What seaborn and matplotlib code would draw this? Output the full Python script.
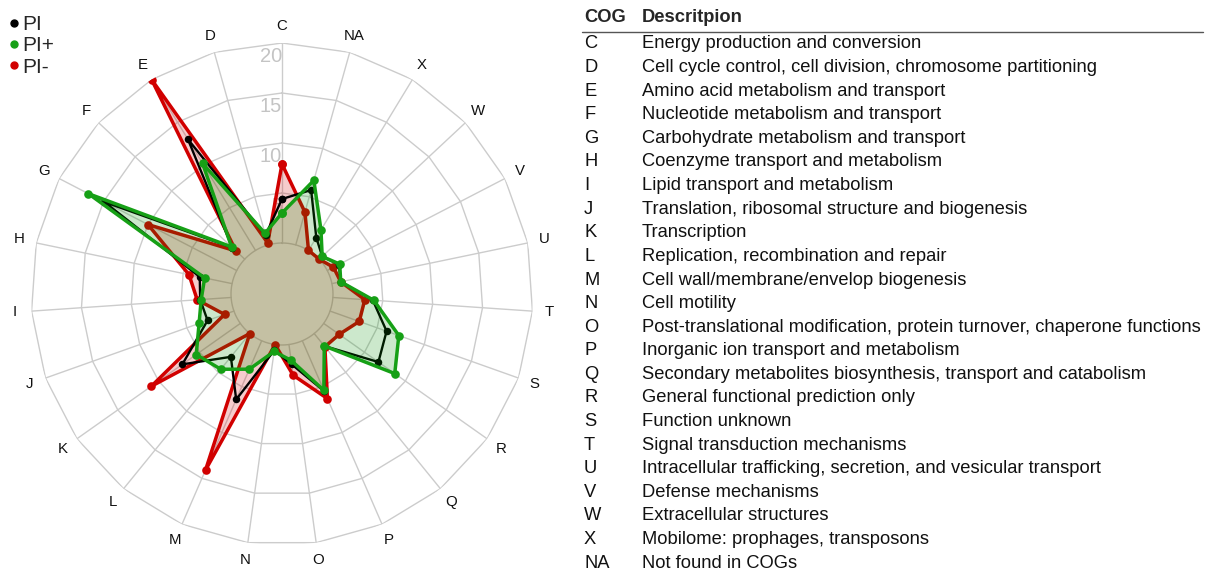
import numpy as np
import pandas as pd
import matplotlib
matplotlib.use("Agg")
import matplotlib.pyplot as plt
from matplotlib.lines import Line2D
import seaborn as sns

# COG categories, clockwise from the top of the radar
categories = ["C", "NA", "X", "W", "V", "U", "T", "S", "R", "Q", "P", "O",
              "N", "M", "L", "K", "J", "I", "H", "G", "F", "E", "D"]

# Percentage of genes per COG category
pi_vals = [4.4, 5.7, 1.5, 0.4, 1.3, 0.9, 4.0, 6.0, 6.7, 1.6, 5.5, 2.0,
           0.6, 6.4, 3.0, 7.1, 2.8, 3.1, 3.3, 14.9, 1.7, 13.0, 1.0]
pi_plus_vals = [3.0, 6.7, 2.4, 0.4, 1.4, 0.9, 4.1, 7.3, 8.7, 1.6, 5.4, 1.6,
                0.7, 3.1, 4.6, 5.4, 3.7, 3.0, 2.8, 16.7, 1.8, 10.2, 1.2]
pi_minus_vals = [7.9, 3.4, 0.0, 0.0, 0.7, 0.9, 3.2, 3.1, 1.9, 1.7, 6.3, 3.1,
                 0.0, 14.1, 0.0, 10.9, 1.0, 3.4, 4.4, 10.0, 1.2, 20.0, 0.2]

radial_ticks = [5, 10, 15, 20]

# Table of COG codes and their descriptions
cog_codes = ["C", "D", "E", "F", "G", "H", "I", "J", "K", "L", "M", "N",
             "O", "P", "Q", "R", "S", "T", "U", "V", "W", "X", "NA"]
cog_descriptions = [
    "Energy production and conversion",
    "Cell cycle control, cell division, chromosome partitioning",
    "Amino acid metabolism and transport",
    "Nucleotide metabolism and transport",
    "Carbohydrate metabolism and transport",
    "Coenzyme transport and metabolism",
    "Lipid transport and metabolism",
    "Translation, ribosomal structure and biogenesis",
    "Transcription",
    "Replication, recombination and repair",
    "Cell wall/membrane/envelop biogenesis",
    "Cell motility",
    "Post-translational modification, protein turnover, chaperone functions",
    "Inorganic ion transport and metabolism",
    "Secondary metabolites biosynthesis, transport and catabolism",
    "General functional prediction only",
    "Function unknown",
    "Signal transduction mechanisms",
    "Intracellular trafficking, secretion, and vesicular transport",
    "Defense mechanisms",
    "Extracellular structures",
    "Mobilome: prophages, transposons",
    "Not found in COGs",
]

sns.set_theme(style="white")
plt.rcParams["font.family"] = ["Liberation Sans", "DejaVu Sans"]

W, H = 1206, 572
fig = plt.figure(figsize=(W / 100, H / 100), dpi=100)

# radar geometry in pixels: centre, outer radius
cx, cy, R = 282, 294, 251
ax = fig.add_axes([(cx - R) / W, (H - cy - R) / H, 2 * R / W, 2 * R / H],
                  projection="polar")
ax.set_theta_zero_location("N")
ax.set_theta_direction(-1)
rmin, rmax = -5.1, 20
ax.set_ylim(rmin, rmax)
ax.grid(False)
ax.set_xticks([])
ax.set_yticks([])
ax.spines["polar"].set_visible(False)
ax.patch.set_alpha(0)

n = len(categories)
theta = np.arange(n) * 2 * np.pi / n
theta_closed = np.append(theta, theta[0])

grid_col = "#cccccc"
# polygonal rings and spokes
for r in radial_ticks:
    ax.plot(theta_closed, [r] * (n + 1), color=grid_col, lw=1.0, zorder=1)
for t in theta:
    ax.plot([t, t], [0, rmax], color=grid_col, lw=1.0, zorder=1)
circ = np.linspace(0, 2 * np.pi, 200)
ax.plot(circ, np.zeros_like(circ), color=grid_col, lw=1.0, zorder=1)

series = [
    ("PI-", pi_minus_vals, "#d10000", "#d20000", 0.2, 2.5, 6.2),
    ("PI", pi_vals, "#000000", None, 0.0, 1.7, 5.4),
    ("PI+", pi_plus_vals, "#16a016", "#009000", 0.2, 2.5, 6.2),
]

z = 3
for name, vals, col, fill_col, alpha, lw, ms in series:
    v = np.append(vals, vals[0])
    df = pd.DataFrame({"theta": theta_closed, "value": v})
    if fill_col is not None:
        ax.fill(df["theta"], df["value"], color=fill_col, alpha=alpha,
                lw=0, zorder=z)
    sns.lineplot(data=df, x="theta", y="value", sort=False, estimator=None,
                 color=col, lw=lw, marker="o", markersize=ms,
                 markeredgewidth=0, ax=ax, zorder=z + 1)
    z += 2

ax.set_xlabel("")
ax.set_ylabel("")
ax.set_ylim(rmin, rmax)

# radial tick labels along the C spoke
for r in radial_ticks:
    ax.text(0, r - 1.35, str(r), ha="right", va="center",
            color="#c4c4c4", fontsize=14.5, zorder=2)

# category labels outside the rings
for t, c in zip(theta, categories):
    ax.text(t, 21.7, c, ha="center", va="center", fontsize=10.8,
            color="#111111", clip_on=False)

# legend
handles = [Line2D([], [], marker="o", ls="", color=c, markersize=5)
           for c in ["#000000", "#16a016", "#d10000"]]
fig.legend(handles, ["PI", "PI+", "PI-"], loc="upper left",
           bbox_to_anchor=(-0.003, 0.995), frameon=False, fontsize=15,
           handlelength=0.5, handletextpad=0.15, labelspacing=0.1,
           borderaxespad=0.2)

# COG description table
fs = 13.25
x_code, x_desc = 584 / W, 642 / W
y_head = 18
fig.text(x_code, 1 - y_head / H, "COG", fontsize=fs, fontweight="bold",
         va="center", ha="left")
fig.text(x_desc, 1 - y_head / H, "Descritpion", fontsize=fs,
         fontweight="bold", va="center", ha="left")
fig.add_artist(Line2D([582 / W, 1203 / W], [1 - 32 / H, 1 - 32 / H],
                      color="#555555", lw=1.0))
row0, step = 44, 23.6
for i, (code, desc) in enumerate(zip(cog_codes, cog_descriptions)):
    y = 1 - (row0 + i * step) / H
    fig.text(x_code, y, code, fontsize=fs, va="center", ha="left",
             color="#111111")
    fig.text(x_desc, y, desc, fontsize=fs, va="center", ha="left",
             color="#111111")

fig.savefig("out.png", dpi=100, facecolor="white")
